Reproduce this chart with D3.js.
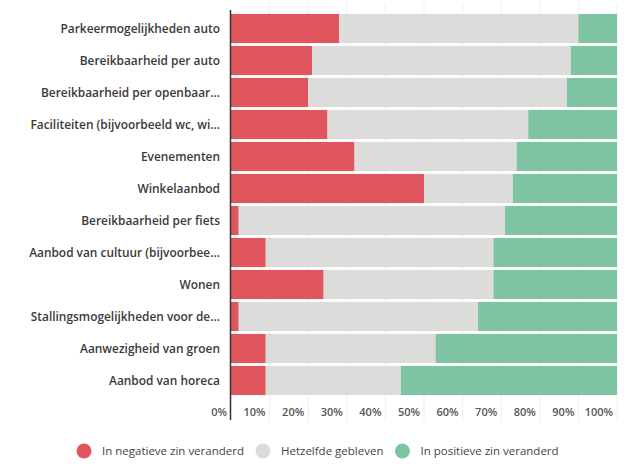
<!DOCTYPE html>
<html>
<head>
<meta charset="utf-8">
<script src="https://cdn.jsdelivr.net/npm/d3@7"></script>
<style>
  html, body { margin: 0; padding: 0; background: #fff; }
  svg { display: block; font-family: "Open Sans", Roboto, sans-serif; }
</style>
</head>
<body>
<svg id="chart" width="634" height="464"></svg>
<script>
// Survey categories (top to bottom)
const categories = [
  "Parkeermogelijkheden auto",
  "Bereikbaarheid per auto",
  "Bereikbaarheid per openbaar...",
  "Faciliteiten (bijvoorbeeld wc, wi...",
  "Evenementen",
  "Winkelaanbod",
  "Bereikbaarheid per fiets",
  "Aanbod van cultuur (bijvoorbee...",
  "Wonen",
  "Stallingsmogelijkheden voor de...",
  "Aanwezigheid van groen",
  "Aanbod van horeca"
];

// Share of answers per category, in percent
const negatief = [28, 21, 20, 25, 32, 50, 2, 9, 24, 2, 9, 9];
const hetzelfde = [62, 67, 67, 52, 42, 23, 69, 59, 44, 62, 44, 35];
const positief = [10, 12, 13, 23, 26, 27, 29, 32, 32, 36, 47, 56];

const seriesNames = ["In negatieve zin veranderd", "Hetzelfde gebleven", "In positieve zin veranderd"];
const seriesKeys = ["neg", "same", "pos"];
const tickValues = [0, 10, 20, 30, 40, 50, 60, 70, 80, 90, 100];

const colors = { neg: "#e0565d", same: "#dcdcda", pos: "#7ec3a2" };

const rows = categories.map((c, i) => ({ cat: c, neg: negatief[i], same: hetzelfde[i], pos: positief[i] }));

const svg = d3.select("#chart");
const x0 = 231, x1 = 617;

const x = d3.scaleLinear().domain([0, 100]).range([x0, x1]);
const y = d3.scaleBand().domain(categories).range([12.5, 396.5]).paddingInner(0.09).paddingOuter(0.045);

// faint vertical gridlines
svg.append("g")
  .selectAll("line")
  .data(tickValues.slice(1))
  .join("line")
  .attr("x1", d => x(d)).attr("x2", d => x(d))
  .attr("y1", 2).attr("y2", 422)
  .attr("stroke", "#eeeeee").attr("stroke-width", 1);

// stacked bars
const stack = d3.stack().keys(seriesKeys);
const stacked = stack(rows);

svg.append("g")
  .selectAll("g")
  .data(stacked)
  .join("g")
  .attr("fill", s => colors[s.key])
  .selectAll("rect")
  .data(s => s)
  .join("rect")
  .attr("x", d => x(d[0]))
  .attr("width", d => x(d[1]) - x(d[0]))
  .attr("y", d => y(d.data.cat))
  .attr("height", y.bandwidth());

// category labels
svg.append("g")
  .selectAll("text")
  .data(categories)
  .join("text")
  .attr("x", x0 - 11)
  .attr("y", d => y(d) + y.bandwidth() / 2)
  .attr("dy", "0.35em")
  .attr("text-anchor", "end")
  .attr("font-size", 11.9)
  .attr("font-weight", 600)
  .attr("fill", "#3a3a3a")
  .text(d => d);

// x-axis tick labels, right-aligned to each tick
svg.append("g")
  .selectAll("text")
  .data(tickValues)
  .join("text")
  .attr("x", d => x(d) - 4)
  .attr("y", 412)
  .attr("dy", "0.35em")
  .attr("text-anchor", "end")
  .attr("font-size", 11)
  .attr("font-weight", 600)
  .attr("fill", "#555")
  .text(d => d + "%");

// baseline axis
svg.append("line")
  .attr("x1", x0 - 0.5).attr("x2", x0 - 0.5)
  .attr("y1", 10).attr("y2", 420)
  .attr("stroke", "#333").attr("stroke-width", 1.5);

// legend
const legend = svg.append("g").attr("transform", "translate(0,451)");
const items = legend.selectAll("g")
  .data(seriesKeys)
  .join("g");
items.append("circle")
  .attr("r", 7.5)
  .attr("fill", d => colors[d]);
items.append("text")
  .attr("x", 18)
  .attr("dy", "0.35em")
  .attr("font-size", 11.5)
  .attr("fill", "#444")
  .text((d, i) => seriesNames[i]);

let cx = 84;
items.each(function () {
  const g = d3.select(this);
  g.attr("transform", `translate(${cx},0)`);
  const w = g.select("text").node().getComputedTextLength();
  cx += 18 + w + 19;
});
</script>
</body>
</html>
